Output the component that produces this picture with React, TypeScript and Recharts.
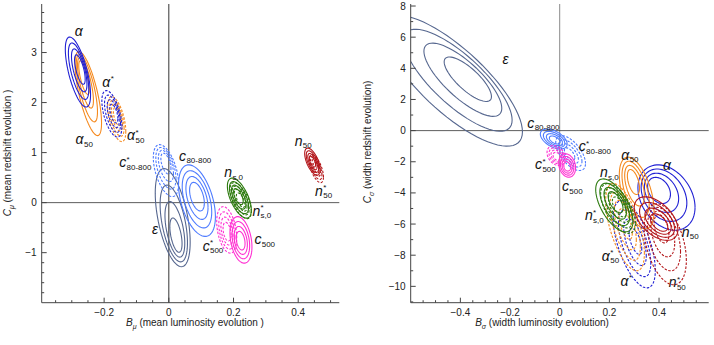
import React from "react";
import { LineChart, Line, XAxis, YAxis, ReferenceLine, ReferenceDot } from "recharts";

const FONT = '"Liberation Sans", Arial, Helvetica, sans-serif';

// tick labels
const leftXLabels = [-0.2, 0, 0.2, 0.4];
const leftYLabels = [-1, 0, 1, 2, 3];
const rightXLabels = [-0.4, -0.2, 0, 0.2, 0.4];
const rightYLabels = [-10, -8, -6, -4, -2, 0, 2, 4, 6, 8];

// posterior contour sets:
// outer contour centre (cx, cy), half extent (hx, hy), tilt (rho),
// innermost contour centre (icx, icy) and its size relative to the outer one (k)
type Blob = {
  key: string;
  cx: number;
  cy: number;
  hx: number;
  hy: number;
  rho: number;
  icx: number;
  icy: number;
  k: number;
};

const leftBlobs: Blob[] = [
  { key: "alpha50", cx: -0.249, cy: 2.18, hx: 0.041, hy: 0.84, rho: -0.7, icx: -0.262, icy: 2.5, k: 0.4 },
  { key: "alpha", cx: -0.281, cy: 2.61, hx: 0.039, hy: 0.7, rho: -0.65, icx: -0.275, icy: 2.66, k: 0.42 },
  { key: "alpha50S", cx: -0.161, cy: 1.67, hx: 0.028, hy: 0.45, rho: -0.55, icx: -0.16, icy: 1.72, k: 0.4 },
  { key: "alphaS", cx: -0.176, cy: 1.775, hx: 0.031, hy: 0.465, rho: -0.55, icx: -0.17, icy: 1.78, k: 0.4 },
  { key: "eps", cx: 0.012, cy: -0.3, hx: 0.054, hy: 0.98, rho: -0.5, icx: 0.022, icy: -0.65, k: 0.35 },
  { key: "c80S", cx: -0.009, cy: 0.64, hx: 0.039, hy: 0.52, rho: -0.5, icx: -0.009, icy: 0.78, k: 0.4 },
  { key: "c80", cx: 0.087, cy: 0.04, hx: 0.057, hy: 0.715, rho: -0.45, icx: 0.087, icy: 0.12, k: 0.4 },
  { key: "c500S", cx: 0.179, cy: -0.545, hx: 0.031, hy: 0.465, rho: -0.35, icx: 0.18, icy: -0.58, k: 0.4 },
  { key: "c500", cx: 0.223, cy: -0.745, hx: 0.034, hy: 0.465, rho: -0.3, icx: 0.222, icy: -0.76, k: 0.4 },
  { key: "ns0", cx: 0.218, cy: 0.09, hx: 0.037, hy: 0.4, rho: -0.6, icx: 0.215, icy: 0.12, k: 0.4 },
  { key: "ns0S", cx: 0.222, cy: 0.04, hx: 0.033, hy: 0.36, rho: -0.6, icx: 0.222, icy: 0.05, k: 0.4 },
  { key: "n50", cx: 0.444, cy: 0.82, hx: 0.024, hy: 0.27, rho: -0.6, icx: 0.444, icy: 0.82, k: 0.4 },
  { key: "n50S", cx: 0.456, cy: 0.68, hx: 0.022, hy: 0.28, rho: -0.6, icx: 0.455, icy: 0.7, k: 0.4 },
];

const rightBlobs: Blob[] = [
  { key: "eps", cx: -0.43, cy: 3.2, hx: 0.28, hy: 4.2, rho: -0.78, icx: -0.37, icy: 3.3, k: 0.34 },
  { key: "c80", cx: -0.024, cy: -0.54, hx: 0.054, hy: 0.64, rho: -0.5, icx: -0.02, icy: -0.6, k: 0.4 },
  { key: "c80S", cx: 0.044, cy: -1.44, hx: 0.06, hy: 1.12, rho: -0.6, icx: 0.04, icy: -1.5, k: 0.35 },
  { key: "c500S", cx: -0.014, cy: -1.6, hx: 0.037, hy: 0.64, rho: -0.3, icx: -0.012, icy: -1.65, k: 0.4 },
  { key: "c500", cx: 0.03, cy: -2.24, hx: 0.034, hy: 0.75, rho: -0.2, icx: 0.03, icy: -2.3, k: 0.4 },
  { key: "alpha", cx: 0.43, cy: -4.3, hx: 0.115, hy: 2.1, rho: -0.3, icx: 0.4, icy: -3.84, k: 0.4 },
  { key: "alpha50", cx: 0.31, cy: -4.0, hx: 0.07, hy: 2.3, rho: -0.5, icx: 0.297, icy: -3.3, k: 0.35 },
  { key: "alphaS", cx: 0.3, cy: -7.3, hx: 0.085, hy: 2.8, rho: -0.6, icx: 0.305, icy: -7.1, k: 0.3 },
  { key: "alpha50S", cx: 0.263, cy: -6.2, hx: 0.078, hy: 2.8, rho: -0.6, icx: 0.265, icy: -6.0, k: 0.35 },
  { key: "ns0", cx: 0.22, cy: -4.8, hx: 0.075, hy: 1.7, rho: -0.6, icx: 0.225, icy: -4.6, k: 0.4 },
  { key: "ns0S", cx: 0.235, cy: -5.0, hx: 0.07, hy: 1.6, rho: -0.6, icx: 0.24, icy: -4.9, k: 0.4 },
  { key: "n50", cx: 0.388, cy: -5.65, hx: 0.088, hy: 1.4, rho: -0.5, icx: 0.4, icy: -5.9, k: 0.4 },
  { key: "n50S", cx: 0.425, cy: -7.3, hx: 0.085, hy: 2.6, rho: -0.4, icx: 0.41, icy: -6.3, k: 0.35 },
];

// parameter labels: symbol, subscript, asterisk, anchor in data units
type Lab = { base: string; sub: string; star: boolean; x: number; y: number };

const leftLabels: Lab[] = [
  { base: "α", sub: "", star: false, x: -0.278, y: 3.41 },
  { base: "α", sub: "", star: true, x: -0.186, y: 2.4 },
  { base: "α", sub: "50", star: false, x: -0.262, y: 1.25 },
  { base: "α", sub: "50", star: true, x: -0.103, y: 1.33 },
  { base: "c", sub: "80-800", star: true, x: -0.104, y: 0.79 },
  { base: "c", sub: "80-800", star: false, x: 0.081, y: 0.92 },
  { base: "n", sub: "s,0", star: false, x: 0.2, y: 0.59 },
  { base: "n", sub: "s,0", star: true, x: 0.287, y: -0.18 },
  { base: "ε", sub: "", star: false, x: -0.042, y: -0.55 },
  { base: "c", sub: "500", star: true, x: 0.136, y: -0.88 },
  { base: "c", sub: "500", star: false, x: 0.296, y: -0.75 },
  { base: "n", sub: "50", star: false, x: 0.415, y: 1.22 },
  { base: "n", sub: "50", star: true, x: 0.478, y: 0.22 },
];

const rightLabels: Lab[] = [
  { base: "ε", sub: "", star: false, x: -0.217, y: 4.52 },
  { base: "c", sub: "80-800", star: false, x: -0.066, y: 0.43 },
  { base: "c", sub: "80-800", star: true, x: 0.141, y: -1.07 },
  { base: "c", sub: "500", star: true, x: -0.058, y: -2.24 },
  { base: "c", sub: "500", star: false, x: 0.05, y: -3.63 },
  { base: "α", sub: "50", star: false, x: 0.282, y: -1.6 },
  { base: "α", sub: "", star: false, x: 0.432, y: -2.3 },
  { base: "n", sub: "s,0", star: false, x: 0.199, y: -2.73 },
  { base: "n", sub: "s,0", star: true, x: 0.139, y: -5.5 },
  { base: "n", sub: "50", star: false, x: 0.525, y: -6.57 },
  { base: "α", sub: "50", star: true, x: 0.204, y: -8.1 },
  { base: "α", sub: "", star: true, x: 0.27, y: -9.7 },
  { base: "n", sub: "50", star: true, x: 0.473, y: -9.81 },
];

const seriesStyle: Record<string, { color: string; dashed: boolean }> = {
  alpha: { color: "#2121d4", dashed: false },
  alphaS: { color: "#2121d4", dashed: true },
  alpha50: { color: "#f58a1f", dashed: false },
  alpha50S: { color: "#f58a1f", dashed: true },
  c80: { color: "#4f7cff", dashed: false },
  c80S: { color: "#4f7cff", dashed: true },
  c500: { color: "#ff30d2", dashed: false },
  c500S: { color: "#ff30d2", dashed: true },
  ns0: { color: "#2c7a0e", dashed: false },
  ns0S: { color: "#2c7a0e", dashed: true },
  n50: { color: "#b3161a", dashed: false },
  n50S: { color: "#b3161a", dashed: true },
  eps: { color: "#56678f", dashed: false },
};

const LEVELS = [0, 1 / 3, 2 / 3, 1];

// closed contour for one level, outer (f=0) to innermost (f=1)
function contour(b: Blob, f: number) {
  const cx = b.cx + (b.icx - b.cx) * f;
  const cy = b.cy + (b.icy - b.cy) * f;
  const s = 1 - (1 - b.k) * f;
  const q = Math.sqrt(1 - b.rho * b.rho);
  const pts: { x: number; y: number }[] = [];
  for (let i = 0; i <= 72; i++) {
    const t = (i / 72) * 2 * Math.PI;
    pts.push({
      x: cx + b.hx * s * Math.cos(t),
      y: cy + b.hy * s * (b.rho * Math.cos(t) + q * Math.sin(t)),
    });
  }
  return pts;
}

const steps = (a: number, b: number, s: number) => {
  const out: number[] = [];
  for (let v = a; v <= b + 1e-9; v += s) out.push(Math.round(v * 1000) / 1000);
  return out;
};

const fmt = (v: number) => (v < 0 ? "\u2212" + Math.abs(v) : String(v));

const AxisTick = (props: any) => {
  const { x, y, payload, side, majors } = props;
  const v = payload.value;
  const major = majors.some((m: number) => Math.abs(m - v) < 1e-6);
  const len = major ? 5 : 2.5;
  const c = "#444";
  if (side === "bottom")
    return (
      <g>
        <line x1={x} y1={y} x2={x} y2={y - len} stroke={c} />
        {major && (
          <text x={x} y={y + 13} textAnchor="middle" fontSize={10} fontFamily={FONT} fill="#222">
            {fmt(v)}
          </text>
        )}
      </g>
    );
  if (side === "top") return <line x1={x} y1={y} x2={x} y2={y + len} stroke={c} />;
  if (side === "left")
    return (
      <g>
        <line x1={x} y1={y} x2={x + len} y2={y} stroke={c} />
        {major && (
          <text x={x - 5} y={y + 3.5} textAnchor="end" fontSize={10} fontFamily={FONT} fill="#222">
            {fmt(v)}
          </text>
        )}
      </g>
    );
  return <line x1={x} y1={y} x2={x - len} y2={y} stroke={c} />;
};

const SUB_W: Record<string, number> = { "-": 0.333, ",": 0.278, s: 0.5 };
const BASE_W: Record<string, number> = { "α": 8.2, c: 7, n: 7.8, "ε": 6.4 };

// one text element: italic symbol, asterisk raised, subscript lowered under it
const BlobLabel = ({ cx, cy, lab }: { cx: number; cy: number; lab: Lab }) => {
  const bw = BASE_W[lab.base] ?? 7.5;
  const sw = lab.sub.split("").reduce((a, ch) => a + (SUB_W[ch] ?? 0.556) * 8, 0);
  const tw = bw + Math.max(sw, lab.star ? 4.5 : 0);
  const x0 = cx - tw / 2;
  const xs = x0 + bw + 0.3;
  return (
    <text x={x0} y={cy + 4} fontFamily={FONT} fill="#111" fontSize={14}>
      <tspan fontStyle="italic">{lab.base}</tspan>
      {lab.star && (
        <tspan x={xs} dy={-5.5} fontSize={8}>
          *
        </tspan>
      )}
      {lab.sub && (
        <tspan x={xs} dy={lab.star ? 8 : 2.5} fontSize={8}>
          {lab.sub}
        </tspan>
      )}
    </text>
  );
};

type PanelProps = {
  blobs: Blob[];
  labels: Lab[];
  xDomain: [number, number];
  yDomain: [number, number];
  xTicks: number[];
  yTicks: number[];
  xMajor: number[];
  yMajor: number[];
  yAxisWidth: number;
  marginRight: number;
  vLine: string;
};

const Panel = (p: PanelProps) => (
  <LineChart
    width={357}
    height={345}
    margin={{ top: 4, right: p.marginRight, bottom: 0, left: 0 }}
  >
    <XAxis
      dataKey="x"
      type="number"
      domain={p.xDomain}
      allowDataOverflow
      ticks={p.xTicks}
      interval={0}
      tickSize={0}
      tickMargin={0}
      tickLine={false}
      height={42.3}
      axisLine={{ stroke: "#444" }}
      tick={(t: any) => <AxisTick {...t} side="bottom" majors={p.xMajor} />}
    />
    <XAxis
      xAxisId="top"
      orientation="top"
      dataKey="x"
      type="number"
      domain={p.xDomain}
      allowDataOverflow
      ticks={p.xTicks}
      interval={0}
      tickSize={0}
      tickMargin={0}
      tickLine={false}
      height={0}
      axisLine={{ stroke: "#444" }}
      tick={(t: any) => <AxisTick {...t} side="top" majors={p.xMajor} />}
    />
    <YAxis
      type="number"
      domain={p.yDomain}
      allowDataOverflow
      ticks={p.yTicks}
      interval={0}
      tickSize={0}
      tickMargin={0}
      tickLine={false}
      width={p.yAxisWidth}
      axisLine={{ stroke: "#444" }}
      tick={(t: any) => <AxisTick {...t} side="left" majors={p.yMajor} />}
    />
    <YAxis
      yAxisId="right"
      orientation="right"
      type="number"
      domain={p.yDomain}
      allowDataOverflow
      ticks={p.yTicks}
      interval={0}
      tickSize={0}
      tickMargin={0}
      tickLine={false}
      width={0}
      axisLine={{ stroke: "#444" }}
      tick={(t: any) => <AxisTick {...t} side="right" majors={p.yMajor} />}
    />
    <ReferenceLine x={0} stroke={p.vLine} strokeWidth={1} />
    <ReferenceLine y={0} stroke="#333" strokeWidth={0.8} />
    {p.blobs.map((b) =>
      LEVELS.map((f, i) => {
        const st = seriesStyle[b.key];
        return (
          <Line
            key={b.key + i}
            data={contour(b, f)}
            dataKey="y"
            type="linear"
            stroke={st.color}
            strokeWidth={1.1}
            strokeDasharray={st.dashed ? "2.5 1.5" : undefined}
            dot={false}
            activeDot={false}
            isAnimationActive={false}
          />
        );
      })
    )}
    {p.labels.map((lab, i) => (
      <ReferenceDot
        key={"lab" + i}
        x={lab.x}
        y={lab.y}
        r={0}
        ifOverflow="visible"
        shape={(d: any) => <BlobLabel cx={d.cx} cy={d.cy} lab={lab} />}
      />
    ))}
  </LineChart>
);

const titleStyle: React.CSSProperties = {
  position: "absolute",
  whiteSpace: "nowrap",
  fontFamily: FONT,
  fontSize: 10,
  color: "#222",
  lineHeight: "12px",
};

export default function App() {
  return (
    <div
      style={{
        position: "absolute",
        left: 0,
        top: 0,
        width: 714,
        height: 345,
        background: "#fff",
        overflow: "hidden",
      }}
    >
      <div style={{ position: "absolute", left: 0, top: 0 }}>
        <Panel
          blobs={leftBlobs}
          labels={leftLabels}
          xDomain={[-0.393, 0.527]}
          yDomain={[-2, 3.97]}
          xTicks={steps(-0.35, 0.5, 0.05)}
          yTicks={steps(-1.8, 3.8, 0.2)}
          xMajor={leftXLabels}
          yMajor={leftYLabels}
          yAxisWidth={41.7}
          marginRight={17.7}
          vLine="#333"
        />
      </div>
      <div style={{ position: "absolute", left: 357, top: 0 }}>
        <Panel
          blobs={rightBlobs}
          labels={rightLabels}
          xDomain={[-0.6, 0.6]}
          yDomain={[-11.05, 8.13]}
          xTicks={steps(-0.55, 0.55, 0.05)}
          yTicks={steps(-11, 8, 1)}
          xMajor={rightXLabels}
          yMajor={rightYLabels}
          yAxisWidth={53.7}
          marginRight={5.3}
          vLine="#8a8a8a"
        />
      </div>
      <div style={{ ...titleStyle, left: 195, top: 325, transform: "translate(-50%, -50%)" }}>
        <i>B</i>
        <sub style={{ fontSize: 7, fontStyle: "italic" }}>μ</sub> (mean luminosity evolution )
      </div>
      <div style={{ ...titleStyle, left: 542, top: 325, transform: "translate(-50%, -50%)" }}>
        <i>B</i>
        <sub style={{ fontSize: 7, fontStyle: "italic" }}>σ</sub> (width luminosity evolution)
      </div>
      <div
        style={{ ...titleStyle, left: 10, top: 153, transform: "translate(-50%, -50%) rotate(-90deg)" }}
      >
        <i>C</i>
        <sub style={{ fontSize: 7, fontStyle: "italic" }}>μ</sub> (mean redshift evolution )
      </div>
      <div
        style={{ ...titleStyle, left: 370, top: 142, transform: "translate(-50%, -50%) rotate(-90deg)" }}
      >
        <i>C</i>
        <sub style={{ fontSize: 7, fontStyle: "italic" }}>σ</sub> (width redshift evolution)
      </div>
    </div>
  );
}
